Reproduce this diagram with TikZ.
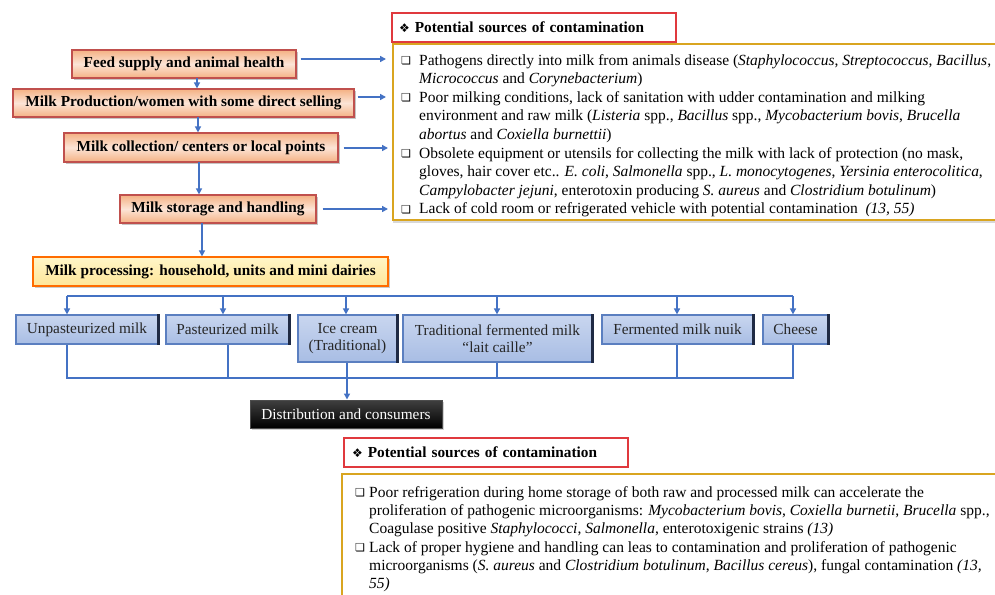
\documentclass[tikz,border=0pt]{standalone}
\usepackage{fontspec}
\setmainfont{Liberation Serif}
\newfontfamily\symf{DejaVu Sans}
\usetikzlibrary{shadows,arrows.meta,calc}
\definecolor{arrblue}{HTML}{4472C4}
\definecolor{oborder}{HTML}{C0504D}
\definecolor{orangeA}{HTML}{F4B183}
\definecolor{orangeB}{HTML}{FCE4D6}
\definecolor{yelA}{HTML}{FFE699}
\definecolor{yelB}{HTML}{FFF6C8}
\definecolor{blueA}{HTML}{C9D6EF}
\definecolor{blueB}{HTML}{A8BDE4}
\definecolor{bborder}{HTML}{5B7FC0}
\definecolor{bedge}{HTML}{1F2A44}
\definecolor{redhdr}{HTML}{E0393E}
\definecolor{goldbox}{HTML}{D9A520}
\newcommand{\sqb}{\makebox[18pt][l]{\raisebox{0.5pt}{\symf\fontsize{11}{11}\selectfont ❏}}}
\newcommand{\ind}{\hspace*{18pt}}
\newcommand{\sqc}{\makebox[14pt][l]{\raisebox{0.5pt}{\symf\fontsize{11}{11}\selectfont ❏}}}
\newcommand{\indc}{\hspace*{14pt}}
\tikzset{
  arr/.style={draw=arrblue, line width=1.6pt, -{Triangle[length=6pt,width=6pt]}},
  bus/.style={draw=arrblue, line width=1.6pt},
  obox/.style={draw=oborder, line width=1.2pt, top color=orangeA, bottom color=orangeA, middle color=orangeB,
    font=\fontsize{15.3}{17}\selectfont\bfseries, inner sep=0pt,
    drop shadow={shadow xshift=2pt,shadow yshift=-2pt,fill=black!45}},
  ybox/.style={draw=orange!85!red, line width=1.2pt, top color=yelB, bottom color=yelA,
    font=\fontsize{15.3}{17}\selectfont\bfseries, inner sep=0pt,
    drop shadow={shadow xshift=2pt,shadow yshift=-2pt,fill=black!40}},
  pbox/.style={draw=bborder, line width=1.2pt, top color=blueA, bottom color=blueB,
    font=\fontsize{15.3}{17}\selectfont, align=center, inner sep=0pt, text=black!85},
  dbox/.style={draw=black!70, line width=1pt, top color=black!75, bottom color=black, text=white,
    font=\fontsize{15.3}{17}\selectfont, inner sep=0pt,
    drop shadow={shadow xshift=2pt,shadow yshift=-2pt,fill=black!35}},
  hdr/.style={draw=redhdr, line width=1.2pt, fill=white, font=\fontsize{15.3}{17}\selectfont\bfseries,
    text width=270pt, align=left, inner xsep=7pt, inner ysep=0pt, minimum height=29pt},
  cbox/.style={draw=goldbox, line width=1.5pt, fill=white,
    drop shadow={shadow xshift=0pt,shadow yshift=-3pt,fill=black!30}},
  ctext/.style={font=\fontsize{15.5}{18.6}\selectfont, align=left, inner sep=0pt, anchor=north west},
  ctextb/.style={font=\fontsize{15.5}{18.3}\selectfont, align=left, inner sep=0pt, anchor=north west}
}
\begin{document}
\begin{tikzpicture}[x=1pt,y=-1pt]
\useasboundingbox (0,0) rectangle (995,594);
\clip (0,0) rectangle (995,594);
\fill[white] (0,0) rectangle (995,594);

% contamination boxes (top)
\node[hdr] (h1) at (534,27.5) {{\symf\fontsize{12}{12}\selectfont ❖} Potential sources of contamination};
\path[cbox] (393,44) rectangle (1010,220);
\node[ctext] (t1) at (401,54) {%
\sqb Pathogens directly into milk from animals disease (\textit{Staphylococcus}, \textit{Streptococcus}, \textit{Bacillus},\\
\ind\textit{Micrococcus} and \textit{Corynebacterium})\\
\sqb Poor milking conditions, lack of sanitation with udder contamination and milking\\
\ind environment and raw milk (\textit{Listeria} spp., \textit{Bacillus} spp., \textit{Mycobacterium bovis}, \textit{Brucella}\\
\ind\textit{abortus} and \textit{Coxiella burnettii})\\
\sqb Obsolete equipment or utensils for collecting the milk with lack of protection (no mask,\\
\ind gloves, hair cover etc.. \textit{E. coli}, \textit{Salmonella} spp., \textit{L. monocytogenes}, \textit{Yersinia enterocolitica},\\
\ind\textit{Campylobacter jejuni}, enterotoxin producing \textit{S. aureus} and \textit{Clostridium botulinum})\\
\sqb Lack of cold room or refrigerated vehicle with potential contamination \ \textit{(13, 55)}};

% chain of orange boxes
\node[obox, minimum width=224pt, minimum height=28pt] (n1) at (184,64) {Feed supply and animal health};
\node[obox, minimum width=341pt, minimum height=28pt] (n2) at (183.5,103) {Milk Production/women with some direct selling};
\node[obox, minimum width=274pt, minimum height=29pt] (n3) at (201,147.5) {Milk collection/ centers or local points};
\node[obox, minimum width=196pt, minimum height=28pt] (n4) at (218,209) {Milk storage and handling};
\node[ybox, minimum width=355pt, minimum height=29pt] (mp) at (210.5,271.5) {Milk processing: household, units and mini dairies};

\draw[arr] (197,78) coordinate (d1) -- (d1 |- n2.north);
\draw[arr] (198,117) coordinate (d2) -- (d2 |- n3.north);
\draw[arr] (199,162) coordinate (d3) -- (d3 |- n4.north);
\draw[arr] (202,223) coordinate (d4) -- (d4 |- mp.north);

% arrows to contamination box
\coordinate (a1) at (386,59);
\coordinate (a2) at (386,97);
\coordinate (a3) at (388,148);
\coordinate (a4) at (388,209);
\draw[arr, shorten <=4pt] (n1.east |- a1) -- (a1);
\draw[arr, shorten <=3pt] (n2.east |- a2) -- (a2);
\draw[arr, shorten <=5pt] (n3.east |- a3) -- (a3);
\draw[arr, shorten <=6pt] (n4.east |- a4) -- (a4);

% product boxes
\node[pbox, minimum width=142pt, minimum height=29pt] (p1) at (87,329.5) {Unpasteurized milk};
\node[pbox, minimum width=123pt, minimum height=29pt] (p2) at (227.5,329.5) {Pasteurized milk};
\node[pbox, minimum width=99pt, minimum height=47pt] (p3) at (347.5,338.5) {Ice cream\\(Traditional)};
\node[pbox, minimum width=189pt, minimum height=47pt] (p4) at (497.5,338.5) {Traditional fermented milk\\“lait caille”};
\node[pbox, minimum width=151pt, minimum height=29pt] (p5) at (677.5,329.5) {Fermented milk nuik};
\node[pbox, minimum width=65pt, minimum height=29pt] (p6) at (795.5,329.5) {Cheese};
\foreach \p in {p1,p2,p3,p4,p5,p6}{
  \draw[bedge, line width=2.6pt] ([xshift=-0.3pt]\p.north east) -- ([xshift=-0.3pt]\p.south east);
}

% top bus
\coordinate (bt1) at (67,296);
\coordinate (bt6) at (793,296);
\draw[bus] (bt1) -- (bt6);
\draw[arr] (bt1) -- (bt1 |- p1.north);
\draw[arr] (223,296) coordinate (bt2) -- (bt2 |- p2.north);
\draw[arr] (346,296) coordinate (bt3) -- (bt3 |- p3.north);
\draw[arr] (497,296) coordinate (bt4) -- (bt4 |- p4.north);
\draw[arr] (677,296) coordinate (bt5) -- (bt5 |- p5.north);
\draw[arr] (bt6) -- (bt6 |- p6.north);

% bottom bus
\coordinate (bb1) at (67,378);
\coordinate (bb6) at (793,378);
\draw[bus] (bb1 |- p1.south) -- (bb1) -- (bb6) -- (bb6 |- p6.south);
\draw[bus] (228,378) coordinate (bb2) -- (bb2 |- p2.south);
\draw[bus] (347,378) coordinate (bb3) -- (bb3 |- p3.south);
\draw[bus] (497,378) coordinate (bb4) -- (bb4 |- p4.south);
\draw[bus] (677,378) coordinate (bb5) -- (bb5 |- p5.south);

\node[dbox, minimum width=192pt, minimum height=28pt] (dc) at (346,414) {Distribution and consumers};
\draw[arr] (bb3) -- (bb3 |- dc.north);

% contamination boxes (bottom)
\node[hdr] (h2) at (486,452.5) {\hspace*{1pt}{\symf\fontsize{12}{12}\selectfont ❖} Potential sources of contamination};
\path[cbox] (342,474) rectangle (1010,610);
\node[ctextb] (t2) at (355,486) {%
\sqc Poor refrigeration during home storage of both raw and processed milk can accelerate the\\
\indc proliferation of pathogenic microorganisms: \textit{Mycobacterium bovis}, \textit{Coxiella burnetii}, \textit{Brucella} spp.,\\
\indc Coagulase positive \textit{Staphylococci}, \textit{Salmonella}, enterotoxigenic strains \textit{(13)}\\
\sqc Lack of proper hygiene and handling can leas to contamination and proliferation of pathogenic\\
\indc microorganisms (\textit{S. aureus} and \textit{Clostridium botulinum}, \textit{Bacillus cereus}), fungal contamination \textit{(13,}\\
\indc\textit{55)}};
\end{tikzpicture}
\end{document}
